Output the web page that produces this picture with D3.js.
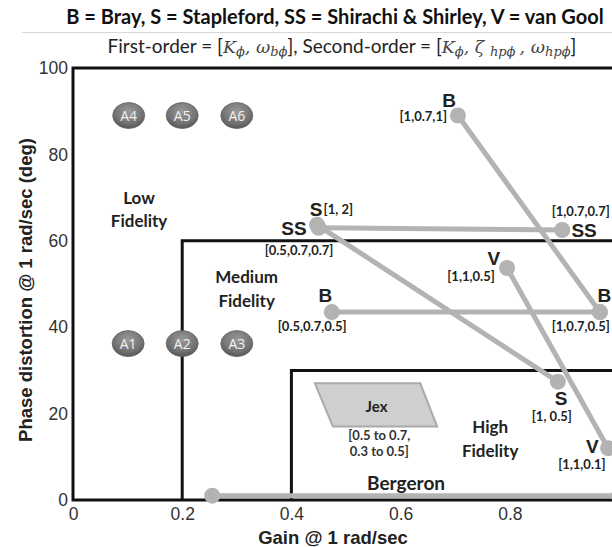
<!DOCTYPE html>
<html>
<head>
<meta charset="utf-8">
<script src="https://cdn.jsdelivr.net/npm/d3@7"></script>
<style>
  body { margin: 0; background: #fff; }
  svg { display: block; }
</style>
</head>
<body>
<svg id="chart"></svg>
<script>
// Total dimensions
var w = 612,
    h = 547;

// Data
var xTicks = [0, 0.2, 0.4, 0.6, 0.8, 1];
var yTicks = [0, 20, 40, 60, 80, 100];

// fidelity regions: lower-left corner of each boundary box
var regionCorners = [[0.2, 60], [0.4, 30]];

// model pairs: start point, end point
var segmentNames = ["B-top", "B-mid", "S", "SS", "V", "Bergeron"];
var segmentStart = [[0.705, 89], [0.474, 43.5], [0.447, 63.7], [0.45, 63], [0.795, 53.7], [0.255, 1]];
var segmentEnd = [[0.965, 43.5], [0.965, 43.5], [0.888, 27.4], [0.896, 62.5], [0.98, 12], [1.0, 1]];

// A1..A6 markers
var aNames = ["A1", "A2", "A3", "A4", "A5", "A6"];
var aX = [0.101, 0.2, 0.3, 0.102, 0.2, 0.3];
var aY = [36.2, 36.2, 36.2, 89, 89, 89];

// Jex parallelogram corners
var jexCorners = [[0.443, 27], [0.636, 27], [0.667, 17], [0.476, 17]];

// point labels: text, x, y (data units), anchor, big letter?
var pointLabels = [
  ["B", 0.689, 91, "middle", true],
  ["[1,0.7,1]", 0.685, 87.8, "end", false],
  ["S", 0.445, 65.7, "middle", true],
  ["[1, 2]", 0.459, 66.1, "start", false],
  ["SS", 0.428, 61.3, "end", true],
  ["[0.5,0.7,0.7]", 0.414, 56.8, "middle", false],
  ["[1,0.7,0.7]", 0.93, 65.8, "middle", false],
  ["SS", 0.936, 60.9, "middle", true],
  ["V", 0.771, 54.4, "middle", true],
  ["[1,1,0.5]", 0.729, 50.8, "middle", false],
  ["B", 0.462, 45.8, "middle", true],
  ["[0.5,0.7,0.5]", 0.438, 39.2, "middle", false],
  ["B", 0.973, 45.8, "middle", true],
  ["[1,0.7,0.5]", 0.93, 39.2, "middle", false],
  ["S", 0.894, 21.9, "middle", true],
  ["[1, 0.5]", 0.877, 18.2, "middle", false],
  ["V", 0.951, 10.8, "middle", true],
  ["[1,1,0.1]", 0.932, 7.1, "middle", false]
];

// region / annotation labels: lines, x, y of first baseline, font size
var regionLabels = [
  [["Low", "Fidelity"], 0.121, 68.6, 17],
  [["Medium", "Fidelity"], 0.318, 50.2, 17],
  [["High", "Fidelity"], 0.764, 15.5, 17],
  [["Bergeron"], 0.61, 2.3, 19],
  [["Jex"], 0.556, 20.4, 15]
];
var jexNote = [["[0.5 to 0.7,", "0.3 to 0.5]"], 0.561, 13.9];

var svg = d3.select("#chart")
    .attr("width", w)
    .attr("height", h);

var xScale = d3.scaleLinear().domain([0, 1]).range([73, 619]);
var yScale = d3.scaleLinear().domain([0, 100]).range([500, 68]);

var bold = "Lato, 'Open Sans', sans-serif";
var arial = "'Liberation Sans', Arial, sans-serif";

// Titles
svg.append("text")
    .attr("x", 335).attr("y", 24)
    .attr("text-anchor", "middle")
    .attr("font-family", bold).attr("font-weight", "bold")
    .attr("font-size", "20px").attr("fill", "#111")
    .text("B = Bray, S = Stapleford, SS = Shirachi & Shirley, V = van Gool");

svg.append("line")
    .attr("x1", 22).attr("x2", 612).attr("y1", 32.5).attr("y2", 32.5)
    .attr("stroke", "#d8d8d8").attr("stroke-width", 1);

var t2 = svg.append("text")
    .attr("x", 342).attr("y", 53)
    .attr("text-anchor", "middle")
    .attr("font-family", bold)
    .attr("font-size", "19px").attr("fill", "#222");
var sub = function(txt) {
  t2.append("tspan").attr("font-size", "13px").attr("baseline-shift", "-25%")
    .attr("font-family", "'DejaVu Serif', serif").attr("font-style", "italic")
    .attr("fill", "#444").text(txt);
};
var ital = function(txt) {
  t2.append("tspan").attr("font-family", "'DejaVu Serif', serif").attr("font-style", "italic")
    .attr("font-size", "17.5px").attr("fill", "#444").text(txt);
};
t2.append("tspan").text("First-order = [");
ital("K"); sub("\u03d5"); ital(", \u03c9"); sub("b\u03d5");
t2.append("tspan").text("], Second-order = [");
ital("K"); sub("\u03d5"); ital(", \u03b6 "); sub("hp\u03d5 "); ital(", \u03c9"); sub("hp\u03d5");
t2.append("tspan").text("]");

var g = svg.append("g");

// region boxes
g.selectAll(".region")
  .data(regionCorners)
  .enter().append("path")
    .attr("class", "region")
    .attr("fill", "none").attr("stroke", "#111").attr("stroke-width", 3)
    .attr("d", function(d) {
      return "M" + xScale(d[0]) + "," + yScale(0) + "V" + yScale(d[1]) + "H" + (w + 5);
    });

// frame: left, top, bottom
g.append("path")
    .attr("fill", "none").attr("stroke", "#111").attr("stroke-width", 3)
    .attr("d", "M" + (w + 5) + "," + yScale(100) + "H" + xScale(0) + "V" + yScale(0) + "H" + (w + 5));

// axes (tick labels only)
var xAxis = d3.axisBottom(xScale).tickValues(xTicks).tickSize(0).tickPadding(8)
    .tickFormat(function(d) { return d3.format("")(d); });
var xg = g.append("g").attr("transform", "translate(0," + yScale(0) + ")").call(xAxis);
var yAxis = d3.axisLeft(yScale).tickValues(yTicks).tickSize(0).tickPadding(5);
var yg = g.append("g").attr("transform", "translate(" + xScale(0) + ",0)").call(yAxis);
[xg, yg].forEach(function(a) {
  a.select(".domain").remove();
  a.selectAll("text").attr("font-family", arial).attr("font-size", "17.5px").attr("fill", "#333");
});

// Jex parallelogram
g.append("polygon")
    .attr("points", jexCorners.map(function(d) { return xScale(d[0]) + "," + yScale(d[1]); }).join(" "))
    .attr("fill", "#cfcfcf").attr("stroke", "#aaa").attr("stroke-width", 2);

// model segments
var segs = g.selectAll(".seg")
  .data(segmentNames.map(function(n, i) { return { name: n, a: segmentStart[i], b: segmentEnd[i] }; }))
  .enter().append("g").attr("class", "seg");
segs.append("line")
    .attr("x1", function(d) { return xScale(d.a[0]); })
    .attr("y1", function(d) { return yScale(d.a[1]); })
    .attr("x2", function(d) { return xScale(d.b[0]); })
    .attr("y2", function(d) { return yScale(d.b[1]); })
    .attr("stroke", "#b3b3b3").attr("stroke-width", 5);
segs.selectAll("circle")
  .data(function(d) { return [d.a, d.b]; })
  .enter().append("circle")
    .attr("cx", function(d) { return xScale(d[0]); })
    .attr("cy", function(d) { return yScale(d[1]); })
    .attr("r", 8).attr("fill", "#b3b3b3");

// A markers
var defs = svg.append("defs");
var grad = defs.append("radialGradient").attr("id", "agrad")
    .attr("cx", "50%").attr("cy", "35%").attr("r", "65%");
grad.append("stop").attr("offset", "0%").attr("stop-color", "#9a9a9a");
grad.append("stop").attr("offset", "70%").attr("stop-color", "#727272");
grad.append("stop").attr("offset", "100%").attr("stop-color", "#555");

var am = g.selectAll(".amark")
  .data(aNames.map(function(n, i) { return { name: n, x: aX[i], y: aY[i] }; }))
  .enter().append("g").attr("class", "amark")
    .attr("transform", function(d) { return "translate(" + xScale(d.x) + "," + yScale(d.y) + ")"; });
am.append("ellipse").attr("rx", 16).attr("ry", 13)
    .attr("fill", "url(#agrad)").attr("stroke", "#666").attr("stroke-width", 0.8);
am.append("text")
    .attr("text-anchor", "middle").attr("dy", "0.36em")
    .attr("font-family", "'Open Sans', sans-serif").attr("font-size", "14px")
    .attr("fill", "#f2f2f2")
    .text(function(d) { return d.name; });

// point labels
g.selectAll(".plabel")
  .data(pointLabels)
  .enter().append("text")
    .attr("class", "plabel")
    .attr("x", function(d) { return xScale(d[1]); })
    .attr("y", function(d) { return yScale(d[2]); })
    .attr("text-anchor", function(d) { return d[3]; })
    .attr("font-family", function(d) { return d[4] ? arial : bold; })
    .attr("font-weight", "bold")
    .attr("font-size", function(d) { return d[4] ? "19px" : "13px"; })
    .attr("fill", "#222")
    .text(function(d) { return d[0]; });

// region labels
regionLabels.forEach(function(r) {
  var t = g.append("text")
      .attr("text-anchor", "middle")
      .attr("font-family", bold).attr("font-weight", "bold")
      .attr("font-size", r[3] + "px").attr("fill", "#222");
  r[0].forEach(function(line, i) {
    t.append("tspan").attr("x", xScale(r[1])).attr("y", yScale(r[2]) + i * 23.5).text(line);
  });
});
var jn = g.append("text")
    .attr("text-anchor", "middle")
    .attr("font-family", bold).attr("font-weight", "bold")
    .attr("font-size", "13px").attr("fill", "#333");
jexNote[0].forEach(function(line, i) {
  jn.append("tspan").attr("x", xScale(jexNote[1])).attr("y", yScale(jexNote[2]) + i * 16.5).text(line);
});

// Axis titles
svg.append("text")
    .attr("x", 333).attr("y", 544)
    .attr("text-anchor", "middle")
    .attr("font-family", arial).attr("font-weight", "bold")
    .attr("font-size", "18.5px").attr("fill", "#222")
    .text("Gain @ 1 rad/sec");
svg.append("text")
    .attr("transform", "translate(32,290) rotate(-90)")
    .attr("text-anchor", "middle")
    .attr("font-family", arial).attr("font-weight", "bold")
    .attr("font-size", "18.5px").attr("fill", "#222")
    .text("Phase distortion @ 1 rad/sec (deg)");
</script>
</body>
</html>
